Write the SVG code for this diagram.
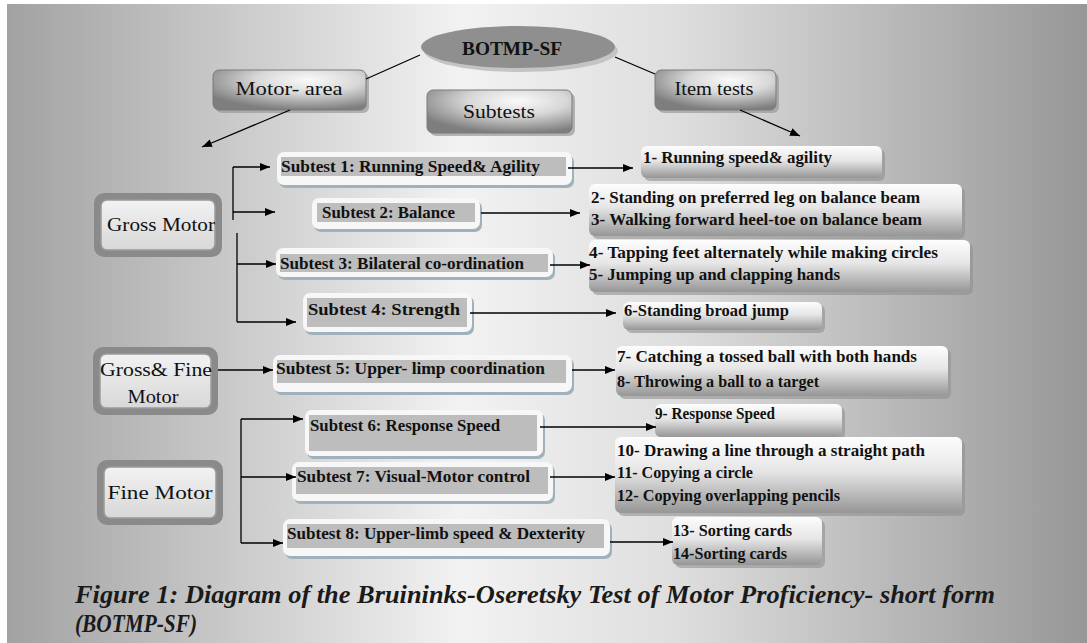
<svg xmlns="http://www.w3.org/2000/svg" width="1087" height="643" viewBox="0 0 1087 643">
<defs>
<linearGradient id="bg" x1="0" y1="0" x2="1" y2="0">
<stop offset="0" stop-color="#a2a2a2"/>
<stop offset="0.42" stop-color="#f2f2f2"/>
<stop offset="0.62" stop-color="#dedede"/>
<stop offset="1" stop-color="#979797"/>
</linearGradient>
<radialGradient id="hdr" cx="0.62" cy="0.25" r="0.75">
<stop offset="0" stop-color="#fafafa"/>
<stop offset="0.45" stop-color="#d8d8d8"/>
<stop offset="1" stop-color="#7e7e7e"/>
</radialGradient>
<linearGradient id="item" x1="0" y1="0" x2="0" y2="1">
<stop offset="0" stop-color="#fdfdfd"/>
<stop offset="0.45" stop-color="#e6e6e6"/>
<stop offset="1" stop-color="#969696"/>
</linearGradient>
<linearGradient id="inner" x1="0" y1="0" x2="0" y2="1">
<stop offset="0" stop-color="#f2f2f2"/>
<stop offset="1" stop-color="#d8d8d8"/>
</linearGradient>
<marker id="ah" viewBox="0 0 10 8" refX="10" refY="4" markerWidth="10" markerHeight="8" markerUnits="userSpaceOnUse" orient="auto">
<path d="M0,0 L10,4 L0,8 z" fill="#000"/>
</marker>
</defs>
<style>
.hdrt{font-family:"Liberation Serif","Times New Roman",serif;font-size:19px;fill:#111;}
.big{font-family:"Liberation Serif","Times New Roman",serif;font-size:19px;fill:#111;}
.st{font-family:"Liberation Serif","Times New Roman",serif;font-size:16px;font-weight:bold;fill:#111;}
.it{font-family:"Liberation Serif","Times New Roman",serif;font-size:16px;font-weight:bold;fill:#111;}
.hdr{fill:url(#hdr);stroke:#7a7a7a;stroke-width:1;}
.hsh{fill:#9a9a9a;opacity:0.7;}
.cat{fill:#8a8a8a;}
.catin{fill:url(#inner);stroke:#9a9a9a;stroke-width:1.5;}
.sbo{fill:#f7f7f7;}
.sbsh{fill:#9fb2bc;}
.sbin{fill:#bdbdbd;}
.itb{fill:url(#item);}
.itsh{fill:#8f8f8f;opacity:0.6;}
.ln{stroke:#000;stroke-width:1.3;fill:none;}
.cap{font-family:"Liberation Serif","Times New Roman",serif;font-size:25px;font-weight:bold;font-style:italic;fill:#1a1a1a;}
</style>
<rect x="0" y="0" width="1087" height="643" fill="#ffffff"/>
<rect x="7" y="4" width="1080" height="639" fill="url(#bg)"/>

<g id="root">
<ellipse cx="521" cy="51" rx="97" ry="21" fill="#c4c4c4"/>
<ellipse cx="518" cy="47" rx="97" ry="21" fill="#8f8f8f"/>
<text x="512" y="55" text-anchor="middle" class="big" font-weight="bold" font-size="20" textLength="100" lengthAdjust="spacingAndGlyphs">BOTMP-SF</text>
</g>

<g id="motor-area">
<rect x="216" y="73" width="153" height="40" rx="6" class="hsh"/>
<rect x="213" y="70" width="153" height="40" rx="6" class="hdr"/>
<text x="289" y="95" text-anchor="middle" class="hdrt" textLength="107" lengthAdjust="spacingAndGlyphs">Motor- area</text>
</g>
<g id="subtests">
<rect x="430" y="93" width="145" height="43" rx="6" class="hsh"/>
<rect x="427" y="90" width="145" height="43" rx="6" class="hdr"/>
<text x="499" y="118" text-anchor="middle" class="hdrt" textLength="72" lengthAdjust="spacingAndGlyphs">Subtests</text>
</g>
<g id="item-tests">
<rect x="658" y="73" width="121" height="40" rx="6" class="hsh"/>
<rect x="655" y="70" width="121" height="40" rx="6" class="hdr"/>
<text x="714" y="95" text-anchor="middle" class="hdrt" textLength="79" lengthAdjust="spacingAndGlyphs">Item tests</text>
</g>

<g id="gross-motor">
<rect x="94" y="193" width="128" height="64" rx="10" class="cat"/>
<rect x="101" y="200" width="114" height="50" rx="6" class="catin"/>
<text x="161" y="231" text-anchor="middle" class="big" textLength="108" lengthAdjust="spacingAndGlyphs">Gross Motor</text>
</g>
<g id="gross-fine-motor">
<rect x="93" y="347" width="125" height="68" rx="10" class="cat"/>
<rect x="100" y="354" width="111" height="54" rx="6" class="catin"/>
<text x="156" y="376" text-anchor="middle" class="big" textLength="112" lengthAdjust="spacingAndGlyphs">Gross&amp; Fine</text>
<text x="153" y="403" text-anchor="middle" class="big" textLength="51" lengthAdjust="spacingAndGlyphs">Motor</text>
</g>
<g id="fine-motor">
<rect x="97" y="460" width="126" height="65" rx="10" class="cat"/>
<rect x="104" y="467" width="112" height="51" rx="6" class="catin"/>
<text x="160" y="499" text-anchor="middle" class="big" textLength="105" lengthAdjust="spacingAndGlyphs">Fine Motor</text>
</g>

<g id="subtest1">
<rect x="279" y="155" width="295" height="33" rx="7" class="sbsh"/>
<rect x="277" y="152" width="295" height="33" rx="7" class="sbo"/>
<rect x="281" y="157" width="285" height="19" class="sbin"/>
<text x="281" y="172" class="st" textLength="259" lengthAdjust="spacingAndGlyphs">Subtest 1:  Running  Speed&amp; Agility</text>
</g>
<g id="subtest2">
<rect x="314" y="201" width="168" height="31" rx="7" class="sbsh"/>
<rect x="312" y="198" width="168" height="31" rx="7" class="sbo"/>
<rect x="317" y="203" width="158" height="19" class="sbin"/>
<text x="322" y="218" class="st" textLength="133" lengthAdjust="spacingAndGlyphs">Subtest 2:  Balance</text>
</g>
<g id="subtest3">
<rect x="278" y="251" width="277" height="29" rx="7" class="sbsh"/>
<rect x="276" y="248" width="277" height="29" rx="7" class="sbo"/>
<rect x="280" y="254" width="268" height="18" class="sbin"/>
<text x="280" y="269" class="st" textLength="244" lengthAdjust="spacingAndGlyphs">Subtest 3: Bilateral co-ordination</text>
</g>
<g id="subtest4">
<rect x="305" y="296" width="169" height="39" rx="7" class="sbsh"/>
<rect x="303" y="293" width="169" height="39" rx="7" class="sbo"/>
<rect x="307" y="298" width="160" height="29" class="sbin"/>
<text x="308" y="315" class="st" textLength="152" lengthAdjust="spacingAndGlyphs">Subtest 4:  Strength</text>
</g>
<g id="subtest5">
<rect x="275" y="358" width="299" height="37" rx="7" class="sbsh"/>
<rect x="273" y="355" width="299" height="37" rx="7" class="sbo"/>
<rect x="277" y="360" width="289" height="23" class="sbin"/>
<text x="276" y="374" class="st" textLength="269" lengthAdjust="spacingAndGlyphs">Subtest 5:  Upper- limp coordination</text>
</g>
<g id="subtest6">
<rect x="307" y="413" width="238" height="46" rx="7" class="sbsh"/>
<rect x="305" y="410" width="238" height="46" rx="7" class="sbo"/>
<rect x="309" y="415" width="228" height="36" class="sbin"/>
<text x="310" y="431" class="st" textLength="190" lengthAdjust="spacingAndGlyphs">Subtest 6:  Response  Speed</text>
</g>
<g id="subtest7">
<rect x="294" y="465" width="261" height="39" rx="7" class="sbsh"/>
<rect x="292" y="462" width="261" height="39" rx="7" class="sbo"/>
<rect x="296" y="467" width="252" height="27" class="sbin"/>
<text x="297" y="482" class="st" textLength="233" lengthAdjust="spacingAndGlyphs">Subtest 7:  Visual-Motor control</text>
</g>
<g id="subtest8">
<rect x="285" y="522" width="327" height="37" rx="7" class="sbsh"/>
<rect x="283" y="519" width="327" height="37" rx="7" class="sbo"/>
<rect x="287" y="524" width="317" height="24" class="sbin"/>
<text x="287" y="539" class="st" textLength="298" lengthAdjust="spacingAndGlyphs">Subtest 8:  Upper-limb  speed  &amp; Dexterity</text>
</g>

<g id="item1">
<rect x="644" y="149" width="241" height="32" rx="6" class="itsh"/>
<rect x="641" y="146" width="241" height="32" rx="6" class="itb"/>
<text x="643" y="163" class="it" textLength="189" lengthAdjust="spacingAndGlyphs">1- Running speed&amp; agility</text>
</g>
<g id="item2-3">
<rect x="592" y="187" width="373" height="52" rx="6" class="itsh"/>
<rect x="589" y="184" width="373" height="52" rx="6" class="itb"/>
<text x="591" y="203" class="it" textLength="329" lengthAdjust="spacingAndGlyphs">2- Standing on preferred leg on balance beam</text>
<text x="591" y="225" class="it" textLength="331" lengthAdjust="spacingAndGlyphs">3- Walking forward heel-toe on balance beam</text>
</g>
<g id="item4-5">
<rect x="592" y="243" width="381" height="52" rx="6" class="itsh"/>
<rect x="589" y="240" width="381" height="52" rx="6" class="itb"/>
<text x="589" y="258" class="it" textLength="349" lengthAdjust="spacingAndGlyphs">4- Tapping feet alternately while making circles</text>
<text x="589" y="280" class="it" textLength="251" lengthAdjust="spacingAndGlyphs">5- Jumping up and clapping hands</text>
</g>
<g id="item6">
<rect x="626" y="305" width="199" height="28" rx="6" class="itsh"/>
<rect x="623" y="302" width="199" height="28" rx="6" class="itb"/>
<text x="624" y="316" class="it" textLength="165" lengthAdjust="spacingAndGlyphs">6-Standing broad jump</text>
</g>
<g id="item7-8">
<rect x="619" y="349" width="332" height="50" rx="6" class="itsh"/>
<rect x="616" y="346" width="332" height="50" rx="6" class="itb"/>
<text x="617" y="362" class="it" textLength="300" lengthAdjust="spacingAndGlyphs">7- Catching a tossed ball with both hands</text>
<text x="617" y="387" class="it" textLength="202" lengthAdjust="spacingAndGlyphs">8- Throwing a ball to a target</text>
</g>
<g id="item9">
<rect x="658" y="407" width="187" height="33" rx="6" class="itsh"/>
<rect x="655" y="404" width="187" height="33" rx="6" class="itb"/>
<text x="655" y="419" class="it" textLength="120" lengthAdjust="spacingAndGlyphs">9- Response  Speed</text>
</g>
<g id="item10-12">
<rect x="618" y="440" width="347" height="76" rx="6" class="itsh"/>
<rect x="615" y="437" width="347" height="76" rx="6" class="itb"/>
<text x="617" y="456" class="it" textLength="308" lengthAdjust="spacingAndGlyphs">10- Drawing a line through a straight path</text>
<text x="617" y="478" class="it" textLength="136" lengthAdjust="spacingAndGlyphs">11- Copying a circle</text>
<text x="617" y="501" class="it" textLength="223" lengthAdjust="spacingAndGlyphs">12- Copying overlapping pencils</text>
</g>
<g id="item13-14">
<rect x="675" y="520" width="150" height="48" rx="6" class="itsh"/>
<rect x="672" y="517" width="150" height="48" rx="6" class="itb"/>
<text x="673" y="536" class="it" textLength="119" lengthAdjust="spacingAndGlyphs">13- Sorting cards</text>
<text x="673" y="559" class="it" textLength="114" lengthAdjust="spacingAndGlyphs">14-Sorting cards</text>
</g>

<g id="connectors">
<line x1="420" y1="55" x2="366" y2="79" class="ln"/>
<line x1="290" y1="110" x2="202" y2="147" class="ln" marker-end="url(#ah)"/>
<line x1="615" y1="57" x2="655" y2="74" class="ln"/>
<line x1="740" y1="110" x2="800" y2="136" class="ln" marker-end="url(#ah)"/>
<line x1="233" y1="167" x2="233" y2="220" class="ln"/>
<line x1="233" y1="167" x2="270" y2="167" class="ln" marker-end="url(#ah)"/>
<line x1="233" y1="212" x2="275" y2="212" class="ln" marker-end="url(#ah)"/>
<line x1="237" y1="233" x2="237" y2="322" class="ln"/>
<line x1="237" y1="264" x2="276" y2="264" class="ln" marker-end="url(#ah)"/>
<line x1="237" y1="322" x2="296" y2="322" class="ln" marker-end="url(#ah)"/>
<line x1="218" y1="370" x2="273" y2="370" class="ln" marker-end="url(#ah)"/>
<line x1="241" y1="419" x2="241" y2="543" class="ln"/>
<line x1="241" y1="419" x2="303" y2="419" class="ln" marker-end="url(#ah)"/>
<line x1="241" y1="477" x2="296" y2="477" class="ln" marker-end="url(#ah)"/>
<line x1="241" y1="543" x2="283" y2="543" class="ln" marker-end="url(#ah)"/>
<line x1="568" y1="168" x2="633" y2="168" class="ln" marker-end="url(#ah)"/>
<line x1="481" y1="213" x2="580" y2="213" class="ln" marker-end="url(#ah)"/>
<line x1="550" y1="265" x2="590" y2="265" class="ln" marker-end="url(#ah)"/>
<line x1="470" y1="313" x2="616" y2="313" class="ln" marker-end="url(#ah)"/>
<line x1="572" y1="370" x2="615" y2="370" class="ln" marker-end="url(#ah)"/>
<line x1="540" y1="427" x2="656" y2="427" class="ln" marker-end="url(#ah)"/>
<line x1="550" y1="477" x2="615" y2="477" class="ln" marker-end="url(#ah)"/>
<line x1="610" y1="542" x2="673" y2="542" class="ln" marker-end="url(#ah)"/>
</g>

<g id="caption">
<text x="75" y="603" class="cap" textLength="920" lengthAdjust="spacingAndGlyphs">Figure 1: Diagram of the Bruininks-Oseretsky Test of Motor Proficiency- short form</text>
<text x="75" y="632" class="cap" textLength="122" lengthAdjust="spacingAndGlyphs">(BOTMP-SF)</text>
</g>
</svg>
